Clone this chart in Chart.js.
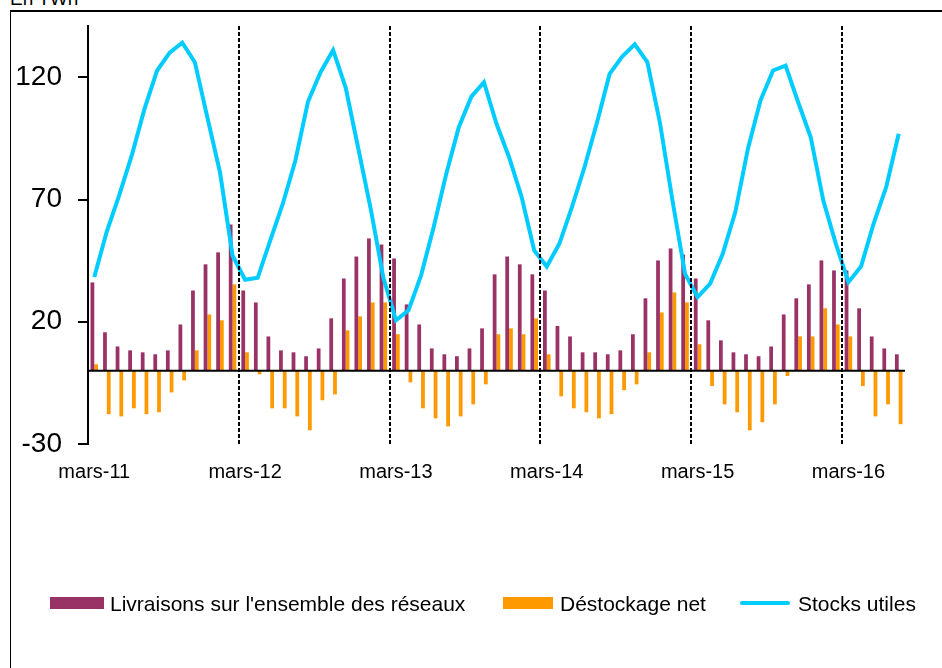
<!DOCTYPE html>
<html>
<head>
<meta charset="utf-8">
<script src="https://cdn.jsdelivr.net/npm/chart.js@4"></script>
<style>
  html, body { margin: 0; padding: 0; background: #fff; width: 942px; height: 668px; overflow: hidden; }
  #frame { position: absolute; left: 10px; top: 10px; width: 1000px; height: 1000px; border-top: 2px solid #000; border-left: 1px solid #000; }
  #wrap { position: absolute; left: 0; top: 0; width: 942px; height: 668px; }
  .unit { position: absolute; left: 10px; top: -11px; font: 19px/19px "Liberation Sans", Arial, sans-serif; color: #000; white-space: nowrap; }
  .lg { position: absolute; font: 21px/21px "Liberation Sans", Arial, sans-serif; color: #000; white-space: nowrap; top: 593px; }
  .sw { position: absolute; }
</style>
</head>
<body>
<div id="frame"></div>
<div class="unit">En TWh</div>
<div id="wrap"><canvas id="c" width="942" height="668"></canvas></div>
<div class="sw" style="left:50px;top:597px;width:54px;height:12px;background:#993366"></div>
<div class="lg" style="left:110px">Livraisons sur l'ensemble des réseaux</div>
<div class="sw" style="left:503px;top:597px;width:50px;height:12px;background:#FF9900"></div>
<div class="lg" style="left:560px">Déstockage net</div>
<div class="sw" style="left:740px;top:601px;width:50px;height:4px;border-radius:2px;background:#00CCFF"></div>
<div class="lg" style="left:798px">Stocks utiles</div>
<script>
const categories = [
  "mars-11","avr.-11","mai-11","juin-11","juil.-11","août-11","sept.-11","oct.-11","nov.-11","déc.-11","janv.-12","févr.-12",
  "mars-12","avr.-12","mai-12","juin-12","juil.-12","août-12","sept.-12","oct.-12","nov.-12","déc.-12","janv.-13","févr.-13",
  "mars-13","avr.-13","mai-13","juin-13","juil.-13","août-13","sept.-13","oct.-13","nov.-13","déc.-13","janv.-14","févr.-14",
  "mars-14","avr.-14","mai-14","juin-14","juil.-14","août-14","sept.-14","oct.-14","nov.-14","déc.-14","janv.-15","févr.-15",
  "mars-15","avr.-15","mai-15","juin-15","juil.-15","août-15","sept.-15","oct.-15","nov.-15","déc.-15","janv.-16","févr.-16",
  "mars-16","avr.-16","mai-16","juin-16","juil.-16"
];

const livraisons = [
  36.1, 15.7, 9.9, 8.3, 7.5, 6.7, 8.3, 18.9, 32.8, 43.5, 48.4, 59.8,
  32.8, 27.9, 14.0, 8.3, 7.5, 5.9, 9.1, 21.4, 37.7, 46.7, 54.1, 51.6,
  45.9, 27.1, 18.9, 9.1, 6.7, 5.9, 9.1, 17.3, 39.4, 46.7, 43.5, 39.4,
  32.8, 18.3, 14.0, 7.5, 7.5, 6.7, 8.3, 14.9, 29.6, 45.1, 50.0, 47.5,
  37.7, 20.6, 12.4, 7.5, 6.7, 5.9, 9.9, 23.0, 29.6, 35.3, 45.1, 41.0,
  41.0, 25.5, 14.0, 9.1, 6.7
];

const destockage = [
  2.6, -17.8, -18.7, -15.4, -17.8, -17.0, -8.9, -4.0, 8.3, 23.0, 20.6, 35.3,
  7.5, -1.5, -15.4, -15.4, -18.7, -24.4, -12.1, -9.7, 16.5, 22.2, 27.9, 27.9,
  14.9, -4.8, -15.4, -19.5, -22.8, -18.7, -13.8, -5.6, 14.9, 17.3, 14.9, 21.4,
  6.7, -10.5, -15.4, -17.0, -19.5, -17.8, -8.0, -5.6, 7.5, 23.8, 32.0, 27.9,
  10.8, -6.3, -13.8, -17.0, -24.4, -21.1, -13.8, -2.2, 14.0, 14.0, 25.5, 18.9,
  14.0, -6.3, -18.7, -13.8, -21.9
];

const stocks = [
  38.3, 57.0, 72.0, 88.4, 107.2, 122.8, 130.1, 134.2, 126.2, 103.5, 81.2, 47.1,
  37.2, 38.0, 53.3, 68.3, 86.0, 110.0, 122.1, 131.1, 115.8, 91.0, 66.0, 38.0,
  20.6, 24.7, 39.0, 58.7, 80.5, 99.6, 112.1, 118.0, 101.0, 87.3, 71.0, 49.2,
  42.6, 51.9, 66.9, 83.2, 101.6, 121.4, 128.5, 133.5, 126.2, 101.5, 69.6, 39.6,
  30.1, 35.6, 47.8, 64.9, 90.7, 110.5, 122.8, 124.8, 109.8, 95.5, 69.6, 51.9,
  36.2, 42.6, 60.1, 75.1, 96.9
];

const yTicks = [-30, 20, 70, 120];
const yMin = -30;
const yMax = 141;

const overlay = {
  id: 'overlay',
  afterDatasetsDraw(chart) {
    const ctx = chart.ctx, area = chart.chartArea;
    const x = chart.scales.x, y = chart.scales.y;
    ctx.save();
    // zero line
    const y0 = y.getPixelForValue(0);
    ctx.strokeStyle = '#000';
    ctx.lineWidth = 2;
    ctx.beginPath();
    ctx.moveTo(area.left, y0);
    ctx.lineTo(area.right, y0);
    ctx.stroke();
    // dashed separators before each "mars" category
    ctx.setLineDash([4, 2]);
    categories.forEach((c, i) => {
      if (i > 0 && c.startsWith('mars')) {
        const xp = Math.round((x.getPixelForValue(i) + x.getPixelForValue(i - 1)) / 2);
        ctx.beginPath();
        ctx.moveTo(xp, area.top);
        ctx.lineTo(xp, area.bottom);
        ctx.stroke();
      }
    });
    ctx.restore();
  }
};

new Chart(document.getElementById('c'), {
  type: 'bar',
  data: {
    labels: categories,
    datasets: [
      { type: 'line', label: 'Stocks utiles', data: stocks, borderColor: '#00CCFF', backgroundColor: '#00CCFF',
        borderWidth: 4, pointRadius: 0, tension: 0, order: 0 },
      { label: "Livraisons sur l'ensemble des réseaux", data: livraisons, backgroundColor: '#993366', order: 1 },
      { label: 'Déstockage net', data: destockage, backgroundColor: '#FF9900', order: 1 }
    ]
  },
  options: {
    responsive: false,
    animation: false,
    events: [],
    devicePixelRatio: 1,
    layout: { padding: { top: 26, right: 37, left: 0, bottom: 0 } },
    datasets: { bar: { categoryPercentage: 0.6, barPercentage: 1.0 } },
    plugins: { legend: { display: false }, tooltip: { enabled: false } },
    scales: {
      x: {
        grid: { display: false, drawTicks: false },
        border: { display: false },
        ticks: {
          autoSkip: false, maxRotation: 0, minRotation: 0, padding: 16,
          color: '#000', font: { family: '"Liberation Sans", Arial, sans-serif', size: 20 },
          callback: function(v, i) { const l = categories[i]; return l.startsWith('mars') ? l : ''; }
        },
        afterFit(s) { s.height = 224; s.paddingLeft = 0; s.paddingRight = 0; }
      },
      y: {
        min: yMin, max: yMax,
        afterBuildTicks(s) { s.ticks = yTicks.map(v => ({ value: v })); },
        grid: { drawOnChartArea: false, drawTicks: true, tickLength: 10, color: '#000', lineWidth: 2 },
        border: { display: true, color: '#000', width: 2 },
        ticks: { padding: 16, color: '#000', font: { family: '"Liberation Sans", Arial, sans-serif', size: 28 } },
        afterFit(s) { s.width = 88; s.paddingTop = 0; s.paddingBottom = 0; }
      }
    }
  },
  plugins: [overlay]
});
</script>
</body>
</html>
